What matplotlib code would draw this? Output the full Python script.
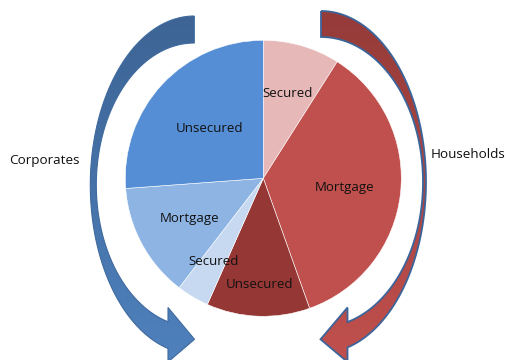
import numpy as np
import matplotlib
matplotlib.use("Agg")
import matplotlib.pyplot as plt
from matplotlib.patches import PathPatch
from matplotlib.path import Path
from matplotlib.colors import LinearSegmentedColormap

plt.rcParams['font.family'] = ['Open Sans', 'DejaVu Sans']

# slices, clockwise from 12 o'clock
labels = ['Secured', 'Mortgage', 'Unsecured', 'Secured', 'Mortgage', 'Unsecured']
shares = [9.0, 35.6, 12.1, 3.8, 13.4, 26.2]
colors = ['#E6B9B8', '#C0504D', '#953735', '#C6D9F1', '#8DB4E3', '#558ED5']
label_r = [0.64, 0.59, 0.77, 0.70, 0.61, 0.53]   # radial position of each label
sides = ['Corporates', 'Households']

W, H = 510, 360


def Y(y):
    # picture rows run downwards, axes y runs upwards
    return H - y


def curved_arrow(cx, cy, ao, bo, ai, bi, xb, tip, barb_top, barb_bot, sign):
    # sign = -1 : bulges to the left, sign = +1 : bulges to the right
    dx = abs(xb - cx)
    to = np.pi - np.arcsin(dx / ao)
    ti = np.pi - np.arcsin(dx / ai)
    t1 = np.linspace(0, to, 80)
    t2 = np.linspace(ti, 0, 80)
    pts = [(cx + sign * ao * np.sin(t), cy - bo * np.cos(t)) for t in t1]
    pts += [(xb, barb_bot), tip, (xb, barb_top)]
    pts += [(cx + sign * ai * np.sin(t), cy - bi * np.cos(t)) for t in t2]
    pts = [(x, Y(y)) for x, y in pts]
    pts.append(pts[0])
    codes = [Path.MOVETO] + [Path.LINETO] * (len(pts) - 2) + [Path.CLOSEPOLY]
    return Path(pts, codes)


def draw_arrow(ax, path, c_top, c_bot, edge, lw):
    patch = PathPatch(path, facecolor='none', edgecolor=edge, lw=lw, zorder=3)
    ax.add_patch(patch)
    x0, y0 = path.vertices.min(axis=0)
    x1, y1 = path.vertices.max(axis=0)
    grad = np.linspace(0, 1, 256).reshape(-1, 1)
    cmap = LinearSegmentedColormap.from_list('g', [c_top, c_bot])
    im = ax.imshow(grad, cmap=cmap, extent=(x0, x1, y0, y1), aspect='auto',
                   origin='upper', zorder=2)
    im.set_clip_path(patch)


fig = plt.figure(figsize=(W / 100, H / 100), dpi=100)
ax = fig.add_axes([0, 0, 1, 1])

pc = (263.3, Y(178.3))
R = 138
wedges, _ = ax.pie(shares, colors=colors, startangle=90, counterclock=False,
                   center=pc, radius=R,
                   wedgeprops=dict(edgecolor='white', linewidth=0.4))

for w, lab, f in zip(wedges, labels, label_r):
    mid = np.deg2rad((w.theta1 + w.theta2) / 2)
    ax.text(pc[0] + f * R * np.cos(mid), pc[1] + f * R * np.sin(mid), lab,
            ha='center', va='center', fontsize=9.5, color='#111111')

left = curved_arrow(194.3, 185, 104, 169, 98, 142, 168, (194.5, 339.3), 307.5, 362, -1)
draw_arrow(ax, left, '#3D6494', '#4F81BD', '#3F6A9E', 0.8)
right = curved_arrow(321, 182, 105, 171, 102, 145, 347.5, (320.5, 339.3), 307.5, 362, 1)
draw_arrow(ax, right, '#953B39', '#C0504D', '#3B659A', 1.3)

ax.text(9, Y(160.7), sides[0], ha='left', va='center', fontsize=9.7, color='#111111')
ax.text(430.5, Y(155), sides[1], ha='left', va='center', fontsize=9.7, color='#111111')

ax.set_xlim(0, W)
ax.set_ylim(0, H)
ax.axis('off')
fig.savefig('out.png', dpi=100)
